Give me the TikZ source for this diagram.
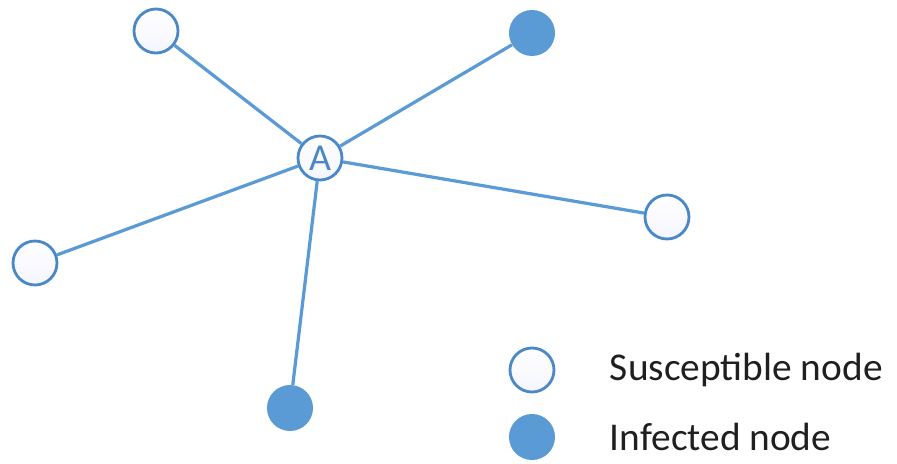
\documentclass[tikz,border=0pt]{standalone}
\usepackage{fontspec}
\setsansfont{Carlito}
\usepackage{tikz}
\usetikzlibrary{positioning}

\definecolor{linkblue}{HTML}{5B9BD5}
\definecolor{rimblue}{HTML}{4A88C7}

\begin{document}
\begin{tikzpicture}[
            x=0.025cm, y=-0.025cm,
            font=\sffamily,
            susceptible/.style={circle, draw=rimblue, line width=2pt, minimum size=1.1cm, inner sep=0pt, top color=white, bottom color=blue!4},
            infected/.style={circle, fill=linkblue, minimum size=1.15cm, inner sep=0pt},
            link/.style={draw=linkblue, line width=2.3pt},
            legendtext/.style={anchor=west, font=\sffamily\fontsize{28}{32}\selectfont, text=black!88}
        ]
        \useasboundingbox (0,0) rectangle (897,464);

        % --- Nodo central ---
        \node[susceptible, text=rimblue, font=\sffamily\fontsize{27}{30}\selectfont] (A) at (320,158) {A};

        % --- Vecinos ---
        \node[susceptible] (topleft) at (156,31) {};
        \node[infected] (topright) at (532,33) {};
        \node[susceptible] (right) at (667,217) {};
        \node[susceptible] (left) at (35,263) {};
        \node[infected] (bottom) at (290,408) {};

        % --- Enlaces ---
        \foreach \n in {topleft, topright, right, left, bottom}
            \draw[link] (A) -- (\n);

        % --- Leyenda ---
        \node[susceptible] (legS) at (532,370) {};
        \node[infected] (legI) at (532,437) {};
        \node[legendtext] at (605,370) {Susceptible node};
        \node[legendtext] at (605,437) {Infected node};

        \end{tikzpicture}
\end{document}
